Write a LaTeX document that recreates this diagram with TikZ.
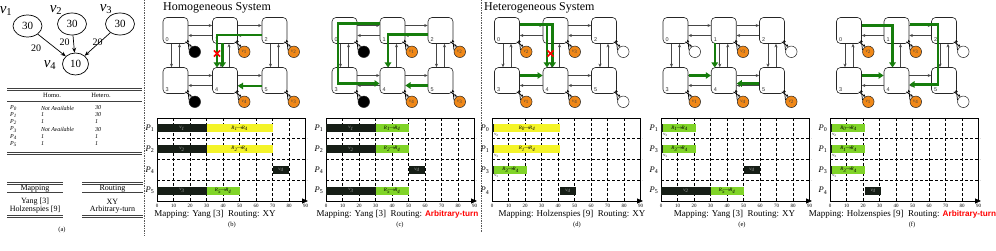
\documentclass[tikz,border=0pt]{standalone}
\usepackage{fontspec}
\setmainfont{Liberation Serif}
\newfontfamily\arialfont{Liberation Sans}
\usetikzlibrary{arrows.meta,shapes.geometric,shapes.misc}

\definecolor{peorange}{RGB}{240,136,24}
\definecolor{gpcol}{RGB}{22,125,12}
\definecolor{barblk}{RGB}{22,30,22}
\definecolor{baryel}{RGB}{244,244,40}
\definecolor{bargrn}{RGB}{128,212,40}
\definecolor{linkcol}{RGB}{70,70,70}

\newcommand\fs[1]{\fontsize{#1}{#1}\selectfont}
\newcommand\vsub[1]{\textit{v}\textsubscript{#1}}
\newcommand\psub[1]{\textit{P}\textsubscript{#1}}
\newcommand\rsub[2]{\textit{R}\textsubscript{#1}$\!\rightarrow\!$\textit{R}\textsubscript{#2}}
\newcommand\arbt{{\arialfont\bfseries\fs{8.2}\color{red}Arbitrary-turn}}

\tikzset{
  router/.style={draw=black!85, line width=0.6pt, rounded corners=4pt, minimum width=25pt, minimum height=26pt, inner sep=0pt, fill=white},
  rnum/.style={font=\arialfont\fs{5.5}, inner sep=0.3pt, anchor=south west, text=black!80},
  link/.style={draw=linkcol, line width=0.6pt, -{Stealth[length=3.5pt,width=3pt]}},
  gp/.style={draw=gpcol, line width=2.3pt, -{Triangle[length=5pt,width=6.5pt]}},
  pebase/.style={circle, draw=black!85, line width=0.5pt, minimum size=11.5pt, inner sep=0pt, font=\fs{5}, text=black!75},
  peor/.style={pebase, fill=peorange},
  pebk/.style={pebase, fill=black},
  pewt/.style={pebase, fill=white},
  pel/.style={draw=black, line width=0.7pt, -{Stealth[length=2.5pt,width=2.5pt]}},
  redx/.style={cross out, draw=red, line width=1.6pt, minimum size=4.5pt, inner sep=0pt},
  chframe/.style={draw=black, line width=0.8pt},
  gridl/.style={draw=black, line width=0.6pt, dash pattern=on 3pt off 2pt},
  ticklab/.style={font=\fs{5}, inner sep=0pt},
  barn/.style={inner sep=0pt, minimum height=8pt, anchor=west, font=\fs{5}\itshape},
  bk/.style={barn, fill=barblk, text=black!35},
  yl/.style={barn, fill=baryel},
  gr/.style={barn, fill=bargrn},
  vsm/.style={font=\fs{4.5}, inner sep=0pt},
  plab/.style={font=\fs{8.5}, inner sep=0pt},
  captxt/.style={font=\fs{9}, inner sep=0pt, anchor=base},
  subc/.style={font=\fs{6.5}, inner sep=0pt},
  ttl/.style={font=\fs{12}, inner sep=0pt, anchor=base west},
  ell/.style={ellipse, draw=black, line width=0.7pt, minimum width=29pt, minimum height=22pt, inner sep=0pt, font=\fs{11}},
  earrow/.style={draw=black, line width=0.7pt, -{Stealth[length=5pt,width=4pt]}},
  vlab/.style={font=\fs{15}, inner sep=0pt},
  elab/.style={font=\fs{10}, inner sep=0pt},
  rulel/.style={draw=black!75, line width=0.7pt},
  thd/.style={font=\fs{6.5}, inner sep=0pt},
  tcell/.style={font=\fs{6}\itshape, inner sep=0pt, anchor=west},
  tbig/.style={font=\fs{8}, inner sep=0pt},
  sepline/.style={draw=black!65, line width=0.8pt, dash pattern=on 1.5pt off 1pt},
}

% mesh: prefix, x of column-0 centre, column spacing
\newcommand\mesh[3]{%
  \node[router] (#10) at (#2,30.5) {};
  \node[router] (#11) at ({#2+#3},30.5) {};
  \node[router] (#12) at ({#2+2*#3},30.5) {};
  \node[router] (#13) at (#2,80.5) {};
  \node[router] (#14) at ({#2+#3},80.5) {};
  \node[router] (#15) at ({#2+2*#3},80.5) {};
  \foreach \k in {0,...,5}{\node[rnum] (#1n\k) at ([shift={(2.3,-1.3)}]#1\k.south west) {\k};}
  \foreach \a/\b in {0/1,1/2,3/4,4/5}{%
    \draw[link] ([yshift=5pt]#1\a.east) -- ([yshift=5pt]#1\b.west);
    \draw[link] ([yshift=-5pt]#1\b.west) -- ([yshift=-5pt]#1\a.east);}
  \foreach \a/\b in {0/3,1/4,2/5}{%
    \draw[link] ([xshift=-4pt]#1\a.south) -- ([xshift=-4pt]#1\b.north);
    \draw[link] ([xshift=4pt]#1\b.north) -- ([xshift=4pt]#1\a.south);}
}
% PE: prefix, index, style, label
\newcommand\pe[4]{%
  \node[#3] (#1p#2) at ([shift={(6.5,8)}]#1#2.south east) {#4};
  \draw[pel] ([shift={(-3,-2)}]#1#2.south east) -- (#1p#2.120);
  \draw[pel] (#1p#2.165) -- ([shift={(-0.5,-4)}]#1#2.south east);
}
% chart: prefix, x0
\newcommand\chart[2]{%
  \foreach \i in {1,...,8}{\draw[gridl] ({#2+16.5*\i},118) -- ({#2+16.5*\i},201);}
  \foreach \j in {1,2,3}{\draw[gridl] (#2,{118+20.75*\j}) -- ({#2+150},{118+20.75*\j});}
  \draw[chframe] (#2,118) rectangle ({#2+148.5},201);
  \draw[chframe,-{Triangle[length=6pt,width=5pt]}] (#2,201) -- ({#2+151},201);
  \foreach \i in {0,...,9}{\node[ticklab] (#1t\i) at ({#2+16.5*\i},205.5) {\the\numexpr\i*10\relax};}
}
% bar: name, x0, row, start, end, style, text
\newcommand\gbar[7]{\node[#6, minimum width={(#5-#4)*1.65pt}] (#1) at ({#2+#4*1.65},{128.4+20.75*#3}) {#7};}
% row label: name, x0, row, index
\newcommand\prow[4]{\node[plab] (#1) at ({#2-7},{128.4+20.75*#3}) {\psub{#4}};}
% small v label under thin bar: name, x0, row, index
\newcommand\vrow[4]{\node[vsm] (#1) at ({#2+4.5},{128.4+20.75*#3+6.5}) {\vsub{#4}};}

\begin{document}
\begin{tikzpicture}[x=1pt,y=-1pt]
\useasboundingbox (0,0) rectangle (996,251);

% ================= (a) =================
\node[ell] (va1) at (27.5,26) {30};
\node[ell] (va2) at (72,24) {30};
\node[ell] (va3) at (120,24) {30};
\node[ell, minimum width=26pt] (va4) at (75.5,64) {10};
\node[vlab] (lv1) at (6,11) {\vsub{1}};
\node[vlab] (lv2) at (56,10) {\vsub{2}};
\node[vlab] (lv3) at (106,9) {\vsub{3}};
\node[vlab] (lv4) at (50,65) {\vsub{4}};
\draw[earrow] (va1) -- (va4);
\draw[earrow] (va2) -- (va4);
\draw[earrow] (va3) -- (va4);
\node[elab] (w1) at (36,48) {20};
\node[elab] (w2) at (64.5,42) {20};
\node[elab] (w3) at (97.5,42) {20};

\draw[rulel] (7,88.3) -- (142,88.3);
\draw[rulel] (7,90.3) -- (142,90.3);
\node[thd] (hh1) at (52,95.5) {Homo.};
\node[thd] (hh2) at (101,95.5) {Hetero.};
\draw[rulel] (7,101.5) -- (142,101.5);
\foreach \r/\y/\ho/\he in {0/108/Not Available/30, 1/115/1/30, 2/122/1/1, 3/129.5/Not Available/30, 4/137/1/1, 5/144/1/1}{
  \node[tcell] (tp\r) at (10,\y) {\textit{P}\textsubscript{\r}};
  \node[tcell] (th\r) at (41,\y) {\ho};
  \node[tcell] (te\r) at (95,\y) {\he};
}
\draw[rulel] (7,152.3) -- (142,152.3);
\draw[rulel] (7,154.3) -- (142,154.3);

\draw[rulel] (7,182.3) -- (63,182.3);
\draw[rulel] (7,184.3) -- (63,184.3);
\draw[rulel] (82,182.3) -- (143,182.3);
\draw[rulel] (82,184.3) -- (143,184.3);
\node[tbig] (mh) at (35,188.3) {Mapping};
\node[tbig] (rh) at (112.5,188.3) {Routing};
\draw[rulel] (7,192.5) -- (63,192.5);
\draw[rulel] (82,192.5) -- (143,192.5);
\node[tbig] (m1) at (35,202) {Yang [3]};
\node[tbig] (m2) at (35,209.5) {Holzenspies [9]};
\node[tbig] (r1) at (112.5,202) {XY};
\node[tbig] (r2) at (112.5,209.5) {Arbitrary-turn};
\draw[rulel] (7,215.3) -- (63,215.3);
\draw[rulel] (7,217.3) -- (63,217.3);
\draw[rulel] (82,215.3) -- (143,215.3);
\draw[rulel] (82,217.3) -- (143,217.3);
\node[subc] (sa) at (62,230) {(a)};

% separators
\draw[sepline] (144,0) -- (144,236);
\draw[sepline] (481,0) -- (481,232);

% titles
\node[ttl] (t1) at (163,10.5) {Homogeneous System};
\node[ttl] (t2) at (484,10.5) {Heterogeneous System};

% ================= meshes =================
\mesh{b}{175.5}{49.5}
\mesh{c}{344.5}{48}
\mesh{d}{507}{48.5}
\mesh{e}{675.5}{48.25}
\mesh{f}{849}{47.5}

% green paths (b)
\draw[gp] ([shift={(-13,4.5)}]b2.center) -| ([shift={(-8,-13)}]b4.center);
\draw[gp] ([shift={(-2.5,13)}]b1.center) -- ([shift={(-2.5,-13)}]b4.center);
\draw[gp] ([shift={(-13,5.5)}]b5.center) -- ([shift={(13,5.5)}]b4.center);
\node[redx] (bx) at ([shift={(-8,23)}]b1.center) {};
% (c)
\draw[gp] ([shift={(-12.5,-7)}]c1.center) -| ([shift={(-6.5,3)}]c3.center) -- ([shift={(-13,3)}]c4.center);
\draw[gp] ([shift={(-13,4)}]c2.center) -| ([shift={(-4.5,-13)}]c4.center);
\draw[gp] ([shift={(-13,5)}]c5.center) -- ([shift={(13,5)}]c4.center);
% (d)
\draw[gp] ([shift={(13,-6)}]d0.center) -| ([shift={(-3,-13)}]d4.center);
\draw[gp] ([shift={(-8.5,-6)}]d1.center) -- ([shift={(-8.5,-13)}]d4.center);
\draw[gp] ([shift={(13,-5)}]d3.center) -- ([shift={(-13,-5)}]d4.center);
\node[redx] (dx) at ([shift={(-5,23)}]d1.center) {};
% (e)
\draw[gp] ([shift={(-9,13)}]e1.center) -- ([shift={(-9,-13)}]e4.center);
\draw[gp] ([shift={(13,-5)}]e3.center) -- ([shift={(-13,-5)}]e4.center);
\draw[gp] ([shift={(-13,3)}]e5.center) -- ([shift={(13,3)}]e4.center);
% (f)
\draw[gp] ([shift={(13,-5)}]f0.center) -| ([shift={(-4,-13)}]f4.center);
\draw[gp] ([shift={(13,-6)}]f1.center) -| ([shift={(-6,4)}]f5.center) -- ([shift={(13,4)}]f4.center);
\draw[gp] ([shift={(13,-5)}]f3.center) -- ([shift={(-13,-5)}]f4.center);

% PEs
\pe{b}{0}{pebk}{} \pe{b}{1}{peor}{\vsub{1}} \pe{b}{2}{peor}{\vsub{2}}
\pe{b}{3}{pebk}{} \pe{b}{4}{peor}{\vsub{4}} \pe{b}{5}{peor}{\vsub{3}}
\pe{c}{0}{pebk}{} \pe{c}{1}{peor}{\vsub{1}} \pe{c}{2}{peor}{\vsub{2}}
\pe{c}{3}{pebk}{} \pe{c}{4}{peor}{\vsub{4}} \pe{c}{5}{peor}{\vsub{3}}
\pe{d}{0}{peor}{\vsub{2}} \pe{d}{1}{peor}{\vsub{3}} \pe{d}{2}{pewt}{}
\pe{d}{3}{peor}{\vsub{1}} \pe{d}{4}{peor}{\vsub{4}} \pe{d}{5}{pewt}{}
\pe{e}{0}{pewt}{} \pe{e}{1}{peor}{\vsub{3}} \pe{e}{2}{pewt}{}
\pe{e}{3}{peor}{\vsub{1}} \pe{e}{4}{peor}{\vsub{4}} \pe{e}{5}{peor}{\vsub{2}}
\pe{f}{0}{peor}{\vsub{2}} \pe{f}{1}{peor}{\vsub{3}} \pe{f}{2}{pewt}{}
\pe{f}{3}{peor}{\vsub{1}} \pe{f}{4}{peor}{\vsub{4}} \pe{f}{5}{pewt}{}

% ================= charts =================
% (b)
\chart{bc}{157}
\prow{bl0}{157}{0}{1} \prow{bl1}{157}{1}{2} \prow{bl2}{157}{2}{4} \prow{bl3}{157}{3}{5}
\gbar{bb1}{157}{0}{0}{30}{bk}{\vsub{1}}
\gbar{bb2}{157}{0}{30}{70}{yl}{\rsub{1}{4}}
\gbar{bb3}{157}{1}{0}{30}{bk}{\vsub{2}}
\gbar{bb4}{157}{1}{30}{70}{yl}{\rsub{2}{4}}
\gbar{bb5}{157}{2}{70}{80}{bk}{\vsub{4}}
\gbar{bb6}{157}{3}{0}{30}{bk}{\vsub{3}}
\gbar{bb7}{157}{3}{30}{50}{gr}{\rsub{5}{4}}
\node[captxt] (bcap) at (215,216.5) {Mapping: Yang [3]\enspace Routing: XY};
\node[subc] (bsub) at (232,224.5) {(b)};
% (c)
\chart{cc}{326}
\prow{cl0}{326}{0}{1} \prow{cl1}{326}{1}{2} \prow{cl2}{326}{2}{4} \prow{cl3}{326}{3}{5}
\gbar{cb1}{326}{0}{0}{30}{bk}{\vsub{1}}
\gbar{cb2}{326}{0}{30}{50}{gr}{\rsub{1}{4}}
\gbar{cb3}{326}{1}{0}{30}{bk}{\vsub{2}}
\gbar{cb4}{326}{1}{30}{50}{gr}{\rsub{2}{4}}
\gbar{cb5}{326}{2}{50}{60}{bk}{\vsub{4}}
\gbar{cb6}{326}{3}{0}{30}{bk}{\vsub{3}}
\gbar{cb7}{326}{3}{30}{50}{gr}{\rsub{5}{4}}
\node[captxt] (ccap) at (397.5,216.5) {Mapping: Yang [3]\enspace Routing: \arbt};
\node[subc] (csub) at (400,224.5) {(c)};
% (d)
\chart{dc}{492}
\prow{dl0}{492}{0}{0} \prow{dl1}{492}{1}{1} \prow{dl2}{492}{2}{3} \prow{dl3}{492}{3}{4}
\gbar{db1}{492}{0}{0}{1.2}{bk}{}
\gbar{db2}{492}{0}{1.2}{41}{yl}{\rsub{0}{4}}
\gbar{db3}{492}{1}{0}{1.2}{bk}{}
\gbar{db4}{492}{1}{1.2}{41}{yl}{\rsub{1}{4}}
\gbar{db5}{492}{2}{0}{1.2}{bk}{}
\gbar{db6}{492}{2}{1.2}{21}{gr}{\rsub{3}{4}}
\gbar{db7}{492}{3}{41}{51}{bk}{\vsub{4}}
\vrow{dv0}{492}{0}{2} \vrow{dv1}{492}{1}{3} \vrow{dv2}{492}{2}{1}
\node[captxt] (dcap) at (572,216.5) {Mapping: Holzenspies [9]\enspace Routing: XY};
\node[subc] (dsub) at (577,224.5) {(d)};
% (e)
\chart{ec}{661}
\prow{el0}{661}{0}{1} \prow{el1}{661}{1}{3} \prow{el2}{661}{2}{4} \prow{el3}{661}{3}{5}
\gbar{eb1}{661}{0}{0}{1.2}{bk}{}
\gbar{eb2}{661}{0}{1.2}{21}{gr}{\rsub{1}{4}}
\gbar{eb3}{661}{1}{0}{1.2}{bk}{}
\gbar{eb4}{661}{1}{1.2}{21}{gr}{\rsub{3}{4}}
\gbar{eb5}{661}{2}{50}{60}{bk}{\vsub{4}}
\gbar{eb6}{661}{3}{0}{30}{bk}{\vsub{2}}
\gbar{eb7}{661}{3}{30}{50}{gr}{\rsub{5}{4}}
\vrow{ev0}{661}{0}{3} \vrow{ev1}{661}{1}{1}
\node[captxt] (ecap) at (734.5,216.5) {Mapping: Yang [3]\enspace Routing: XY};
\node[subc] (esub) at (742,224.5) {(e)};
% (f)
\chart{fc}{830}
\prow{fl0}{830}{0}{0} \prow{fl1}{830}{1}{1} \prow{fl2}{830}{2}{3} \prow{fl3}{830}{3}{4}
\gbar{fb1}{830}{0}{0}{1.2}{bk}{}
\gbar{fb2}{830}{0}{1.2}{21}{gr}{\rsub{0}{4}}
\gbar{fb3}{830}{1}{0}{1.2}{bk}{}
\gbar{fb4}{830}{1}{1.2}{21}{gr}{\rsub{1}{4}}
\gbar{fb5}{830}{2}{0}{1.2}{bk}{}
\gbar{fb6}{830}{2}{1.2}{21}{gr}{\rsub{3}{4}}
\gbar{fb7}{830}{3}{21}{31}{bk}{\vsub{4}}
\vrow{fv0}{830}{0}{2} \vrow{fv1}{830}{1}{3} \vrow{fv2}{830}{2}{1}
\node[captxt] (fcap) at (902.5,216.5) {Mapping: Holzenspies [9]\enspace Routing: \arbt};
\node[subc] (fsub) at (912,224.5) {(f)};
\end{tikzpicture}
\end{document}
